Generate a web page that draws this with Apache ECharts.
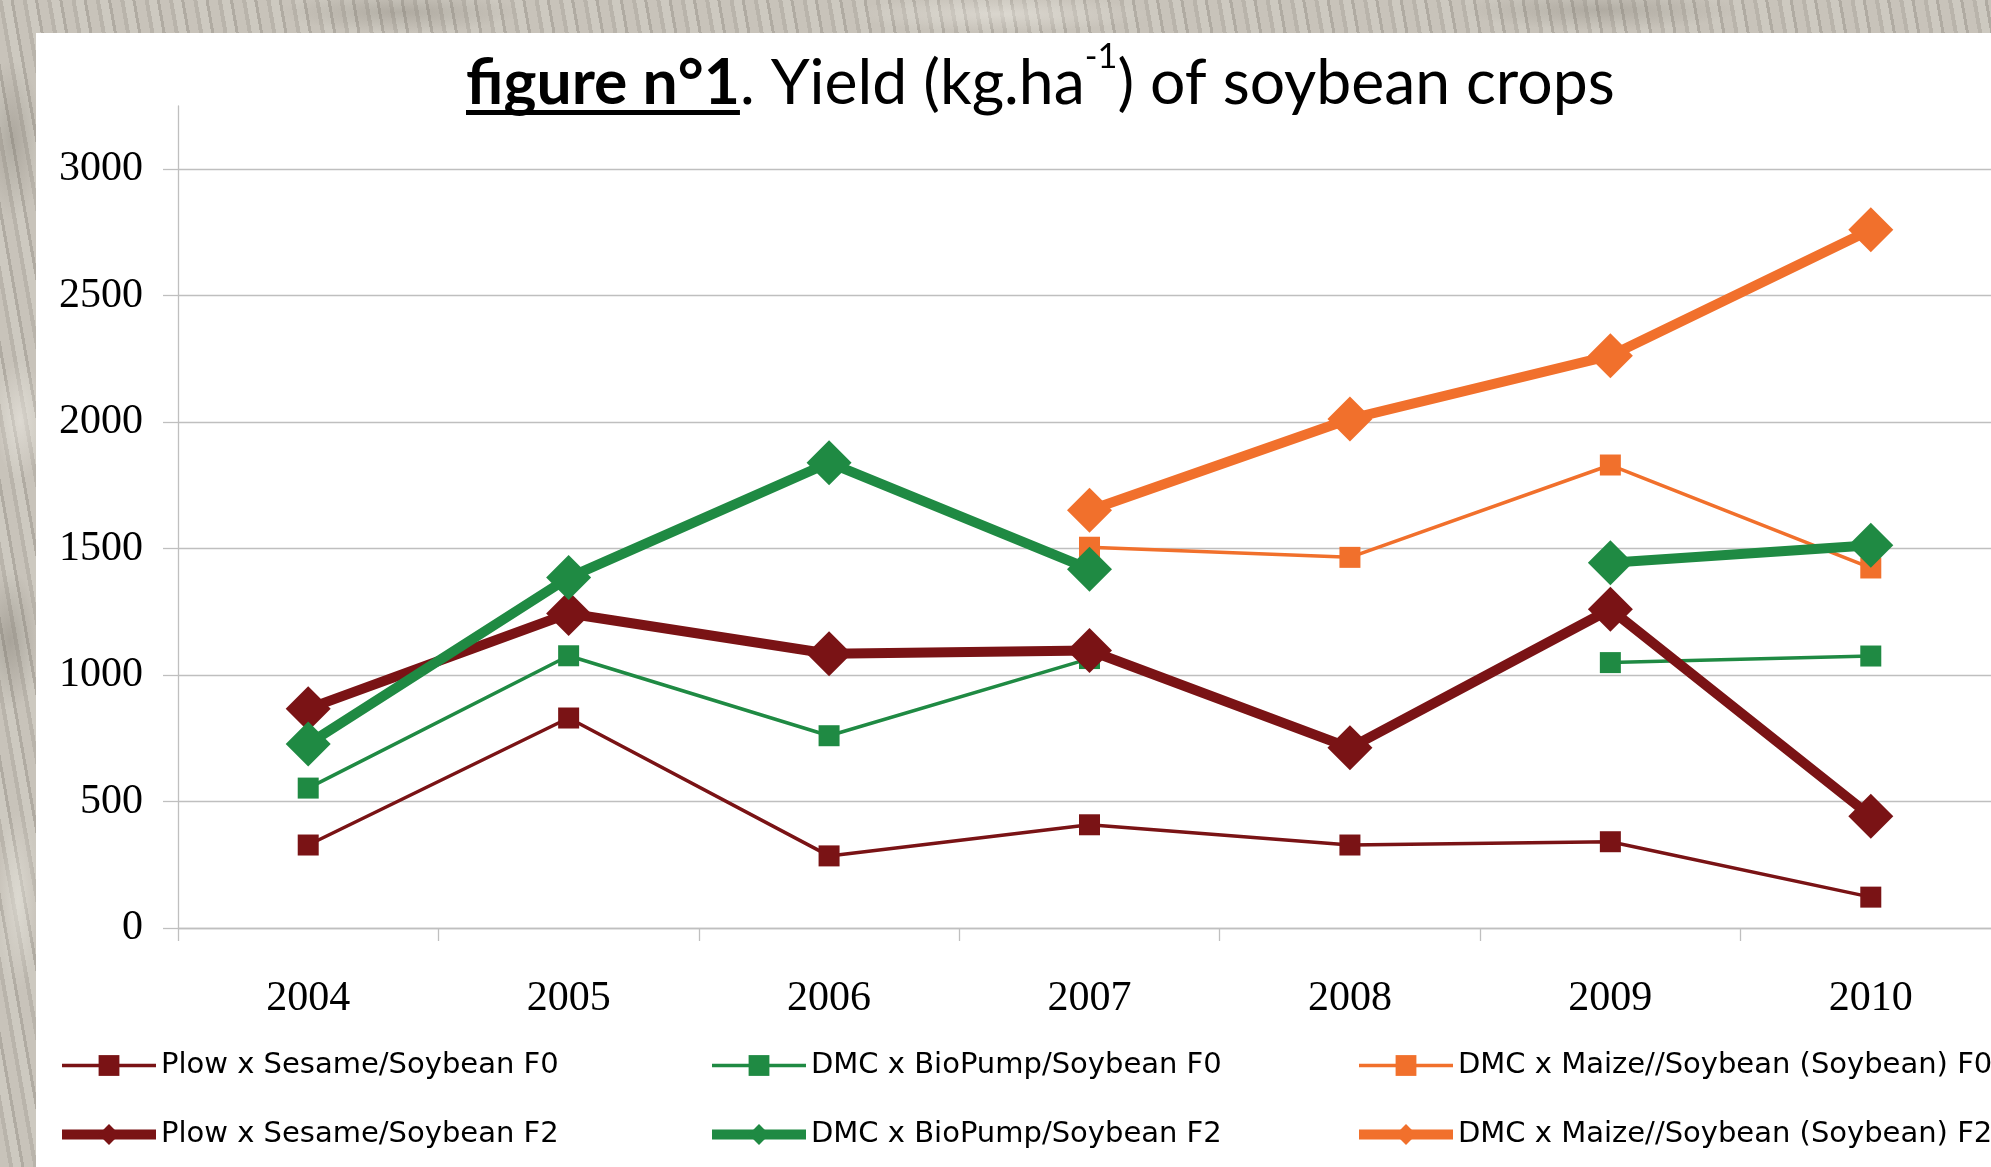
<!DOCTYPE html>
<html><head><meta charset="utf-8">
<script src="https://cdn.jsdelivr.net/npm/echarts@6/dist/echarts.min.js"></script>
<style>
html,body{margin:0;padding:0;width:1991px;height:1167px;overflow:hidden;}
body{background:
  radial-gradient(ellipse 30px 80px at 12px 140px, rgba(120,115,105,.35), transparent),
  radial-gradient(ellipse 25px 60px at 20px 420px, rgba(235,232,225,.6), transparent),
  radial-gradient(ellipse 30px 70px at 10px 640px, rgba(110,105,95,.35), transparent),
  radial-gradient(ellipse 20px 90px at 18px 900px, rgba(230,228,220,.6), transparent),
  radial-gradient(ellipse 120px 20px at 400px 12px, rgba(120,115,105,.3), transparent),
  radial-gradient(ellipse 150px 18px at 1000px 14px, rgba(235,232,225,.5), transparent),
  radial-gradient(ellipse 140px 20px at 1600px 10px, rgba(120,115,105,.3), transparent),
  repeating-linear-gradient(80deg,#c8c3ba 0 9px,#b9b4ab 9px 13px,#cdc9c0 13px 21px,#b0aba2 21px 24px);}
#panel{position:absolute;left:36px;top:33px;right:0;bottom:0;background:#fff;}
#chart{position:absolute;left:0;top:0;width:1991px;height:1167px;}
</style></head><body>
<div id="panel"></div><div id="chart"></div>
<script>
// ---- data ----
const years = ['2004','2005','2006','2007','2008','2009','2010'];
const plowF0  = [328, 830, 285, 408, 328, 341, 122];
const bioF0   = [553, 1076, 760, 1065, null, 1049, 1075];
const maizeF0 = [null, null, null, 1505, 1465, 1830, 1423];
const plowF2  = [867, 1243, 1084, 1097, 712, 1260, 442];
const bioF2   = [727, 1385, 1839, 1418, null, 1444, 1513];
const maizeF2 = [null, null, null, 1651, 2012, 2262, 2760];
const yMin = 0, yMax = 3000, yStep = 500;
const seriesNames = [
  'Plow x Sesame/Soybean F0',
  'DMC x BioPump/Soybean F0',
  'DMC x Maize//Soybean (Soybean) F0',
  'Plow x Sesame/Soybean F2',
  'DMC x BioPump/Soybean F2',
  'DMC x Maize//Soybean (Soybean) F2'
];
const titleBold = 'figure n°1';
const titleA = '. Yield (kg.ha';
const titleSup = '-1';
const titleB = ') of soybean crops';

// ---- styling ----
const RED = '#7a1315', GREEN = '#1f8a43', ORANGE = '#f1702c';
const GRID = '#bfbfbf';
const TF = 'Lato';
const ctx = document.createElement('canvas').getContext('2d');
function tw(font, t){ ctx.font = font; return ctx.measureText(t).width; }
const B = 100;
const wAll = tw(`bold ${B}px ${TF}`, titleBold) + tw(`normal ${B}px ${TF}`, titleA) +
             tw(`normal ${B*0.55}px ${TF}`, titleSup) + tw(`normal ${B}px ${TF}`, titleB);
const S = B * 1149 / wAll;
const wBold = tw(`bold ${S}px ${TF}`, titleBold);

const chart = echarts.init(document.getElementById('chart'), null, {renderer:'canvas'});
function mk(name, data, color, thick){
  return {
    name, type:'line', data, xAxisIndex:0, yAxisIndex:0,
    symbol: thick ? 'diamond' : 'rect', symbolSize: thick ? 45 : 21,
    lineStyle:{color, width: thick ? 10 : 3.5},
    itemStyle:{color},
    connectNulls:false, animation:false, showAllSymbol:true
  };
}
const legendLeft = [57, 707, 1354];
chart.setOption({
  animation:false,
  backgroundColor:'transparent',
  title:{
    left:466, top: 104 - S*1.02, padding:0,
    text:`{b|${titleBold}}{r|${titleA}}{s|${titleSup}}{r|${titleB}}`,
    textStyle:{
      fontWeight:'normal',
      rich:{
        b:{fontFamily:TF, fontWeight:'bold', fontSize:S, color:'#000', lineHeight:S*1.2, verticalAlign:'bottom'},
        r:{fontFamily:TF, fontWeight:'normal', fontSize:S, color:'#000', lineHeight:S*1.2, verticalAlign:'bottom'},
        s:{fontFamily:TF, fontWeight:'normal', fontSize:S*0.55, color:'#000', lineHeight:S*1.2, verticalAlign:'top'}
      }
    }
  },
  graphic:[{type:'rect', shape:{x:466, y:110, width:wBold, height:5}, style:{fill:'#000'}, silent:true}],
  grid:[
    {left:178, top:169, width:1823, bottom:239, outerBoundsMode:'none', containLabel:false},
    {left:178, top:106, width:1823, bottom:239, outerBoundsMode:'none', containLabel:false}
  ],
  xAxis:[
    {type:'category', gridIndex:0, data:years, boundaryGap:true,
     axisLine:{show:true, lineStyle:{color:GRID, width:1.3}},
     axisTick:{show:true, length:13, lineStyle:{color:GRID, width:1.3}},
     axisLabel:{fontFamily:'Liberation Serif', fontSize:42, color:'#000', margin:50, lineHeight:42},
     splitLine:{show:false}},
    {type:'category', gridIndex:1, data:years, show:false}
  ],
  yAxis:[
    {type:'value', gridIndex:0, min:yMin, max:yMax, interval:yStep,
     axisLine:{show:false},
     axisTick:{show:true, length:15, lineStyle:{color:GRID, width:1.3}},
     axisLabel:{fontFamily:'Liberation Serif', fontSize:42, color:'#000', margin:35,
                formatter:(v)=>String(v)},
     splitLine:{show:true, lineStyle:{color:GRID, width:1.3}}},
    {type:'value', gridIndex:1, min:0, max:1,
     axisLine:{show:true, lineStyle:{color:GRID, width:1.3}},
     axisTick:{show:false}, axisLabel:{show:false}, splitLine:{show:false}}
  ],
  legend:[0,1,2].map(i=>({
    orient:'vertical', left:legendLeft[i], top:1051, padding:0,
    itemWidth:94, itemHeight:26, itemGap:40, selectedMode:false,
    data:[seriesNames[i], seriesNames[i+3]],
    lineStyle:{width:'inherit'},
    textStyle:{fontFamily:'DejaVu Sans', fontSize:29, color:'#000', lineHeight:26}
  })),
  series:[
    mk(seriesNames[0], plowF0, RED, false),
    mk(seriesNames[1], bioF0, GREEN, false),
    mk(seriesNames[2], maizeF0, ORANGE, false),
    mk(seriesNames[3], plowF2, RED, true),
    mk(seriesNames[4], bioF2, GREEN, true),
    mk(seriesNames[5], maizeF2, ORANGE, true)
  ]
});
</script>
</body></html>
